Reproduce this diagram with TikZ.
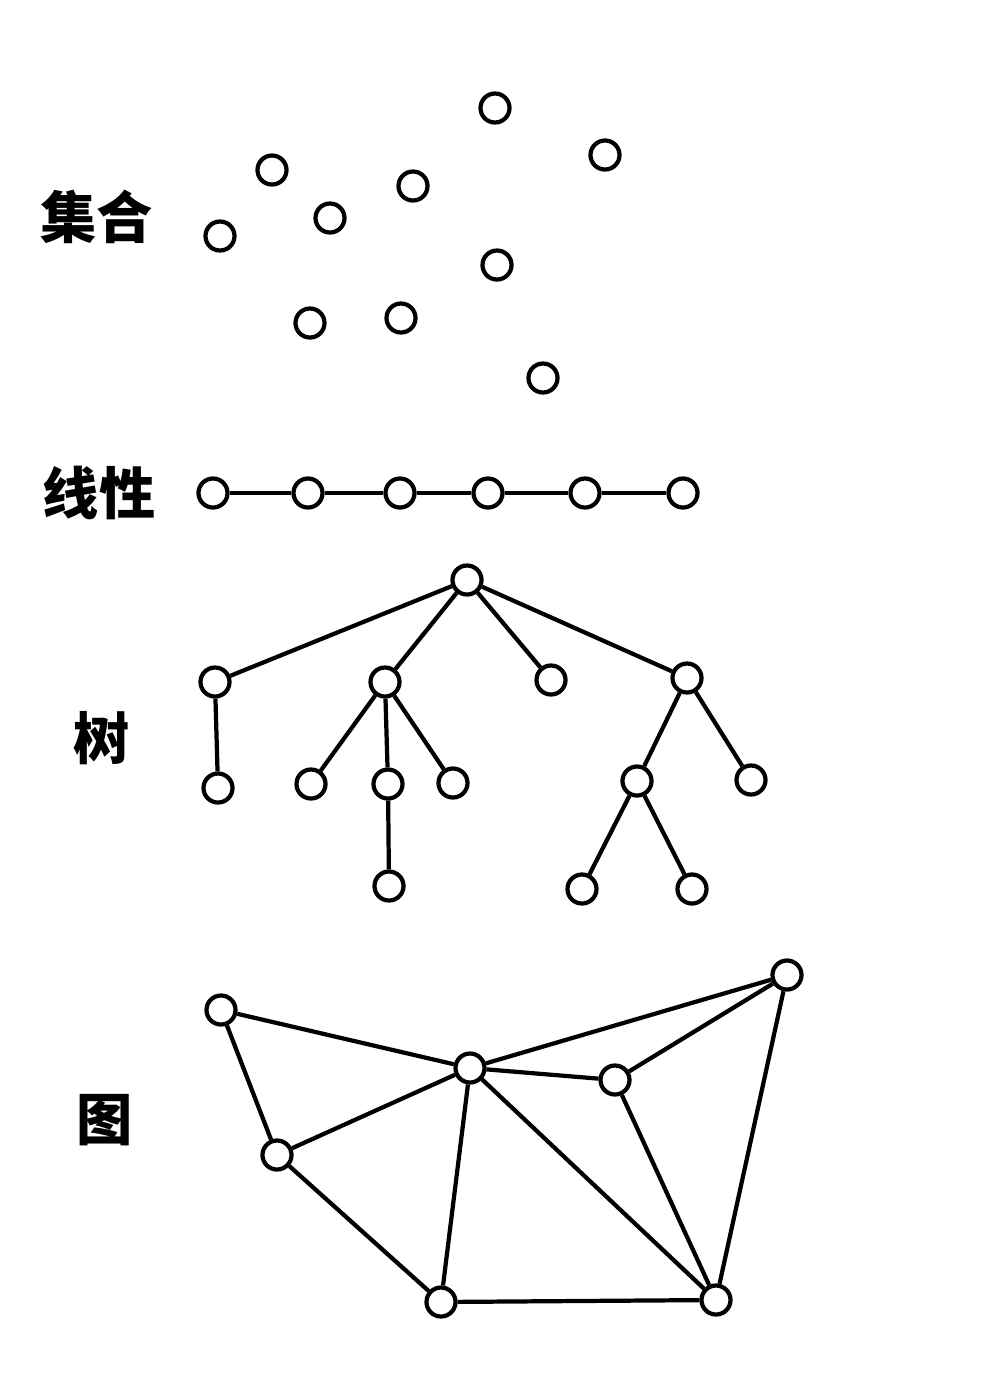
\documentclass[tikz,border=0pt]{standalone}
\usepackage{fontspec}
\newfontfamily\cjk{Noto Sans CJK SC}
\usetikzlibrary{positioning}

\begin{document}
\begin{tikzpicture}[x=0.01cm,y=-0.01cm, dot/.style={circle,draw,line width=1.2pt,minimum size=0.29cm,inner sep=0pt,fill=white}, edge/.style={line width=1.2pt}, lab/.style={font=\cjk\bfseries\fontsize{16}{16}\selectfont}]
\useasboundingbox (0,0) rectangle (1000,1396);
% set
\node (lab1) [lab] at (97,217) {集合};
\node (s1) [dot] at (495,108) {};
\node (s2) [dot] at (605,155) {};
\node (s3) [dot] at (272,170) {};
\node (s4) [dot] at (413,186) {};
\node (s5) [dot] at (330,218) {};
\node (s6) [dot] at (220,236) {};
\node (s7) [dot] at (497,265) {};
\node (s8) [dot] at (310,323) {};
\node (s9) [dot] at (401,318) {};
\node (s10) [dot] at (543,378) {};
% linear
\node (lab2) [lab] at (99,493) {线性};
\foreach \i/\x in {1/213,2/308,3/400,4/488,5/585,6/683}
  \node (l\i) [dot] at (\x,493) {};
\foreach \i/\j in {1/2,2/3,3/4,4/5,5/6}
  \draw [edge] (l\i) -- (l\j);
% tree
\node (lab3) [lab] at (102,738) {树};
\node (t0) [dot] at (467,580) {};
\node (t1) [dot] at (215,682) {};
\node (t2) [dot] at (385,682) {};
\node (t3) [dot] at (551,680) {};
\node (t4) [dot] at (687,678) {};
\node (t11) [dot] at (218,788) {};
\node (t21) [dot] at (311,784) {};
\node (t22) [dot] at (388,784) {};
\node (t23) [dot] at (453,783) {};
\node (t221) [dot] at (389,886) {};
\node (t41) [dot] at (637,781) {};
\node (t42) [dot] at (751,780) {};
\node (t411) [dot] at (582,889) {};
\node (t412) [dot] at (692,889) {};
\foreach \a/\b in {t0/t1,t0/t2,t0/t3,t0/t4,t1/t11,t2/t21,t2/t22,t2/t23,t22/t221,t4/t41,t4/t42,t41/t411,t41/t412}
  \draw [edge] (\a) -- (\b);
% graph
\node (lab4) [lab] at (105,1120) {图};
\node (ga) [dot] at (221,1010) {};
\node (gb) [dot] at (787,975) {};
\node (gc) [dot] at (470,1068) {};
\node (gd) [dot] at (615,1080) {};
\node (ge) [dot] at (277,1155) {};
\node (gf) [dot] at (441,1302) {};
\node (gg) [dot] at (716,1300) {};
\foreach \a/\b in {ga/gc,ga/ge,gc/gb,gc/gd,gd/gb,gc/ge,gc/gf,gc/gg,gd/gg,gb/gg,ge/gf,gf/gg}
  \draw [edge] (\a) -- (\b);
\end{tikzpicture}
\end{document}
